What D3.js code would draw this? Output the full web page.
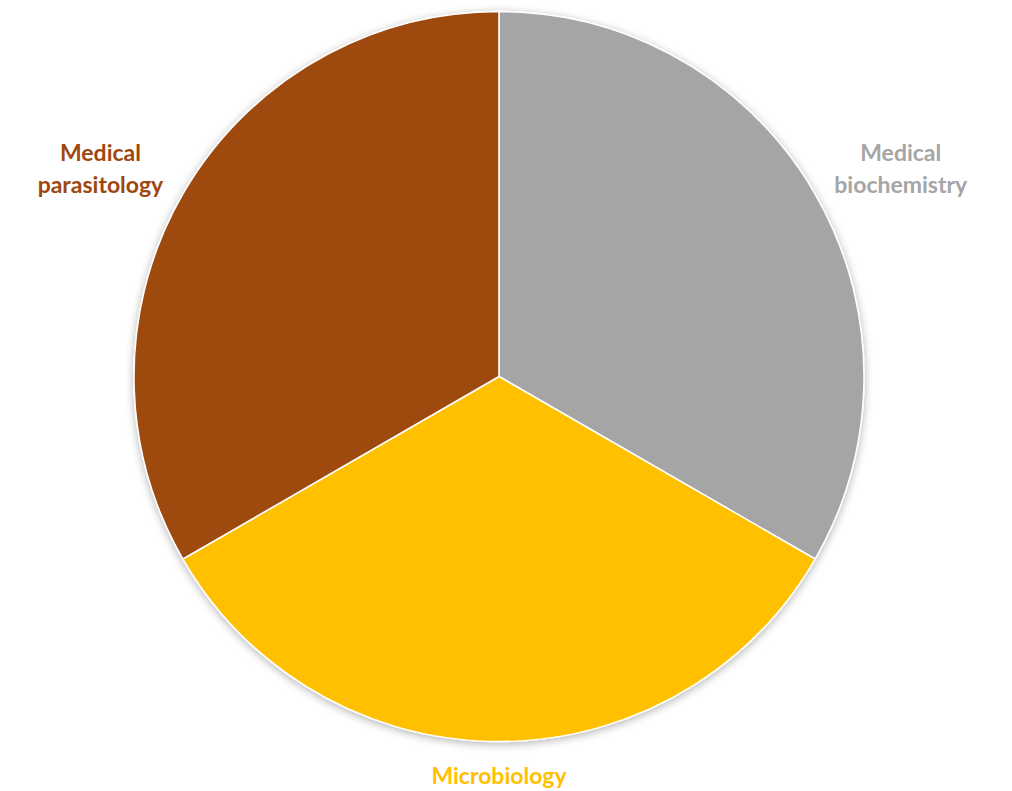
<!DOCTYPE html>
<html>
<head>
<meta charset="utf-8">
<script src="https://cdn.jsdelivr.net/npm/d3@7"></script>
<style>
  html, body { margin: 0; padding: 0; background: #ffffff; }
  text { font-family: Lato, "Open Sans", sans-serif; font-weight: bold; }
</style>
</head>
<body>
<div id="chart"></div>
<script>
"use strict";

const categories = ["Medical biochemistry", "Microbiology", "Medical parasitology"];
const values = [1, 1, 1];
const colors = ["#a5a5a5", "#ffc000", "#9e480e"];
// label lines, one entry per category
const labelLines = [["Medical", "biochemistry"], ["Microbiology"], ["Medical", "parasitology"]];

const width = 1012;
const height = 791;
const cx = 499;
const cy = 376.5;
const radius = 365;

const svg = d3.select("#chart").append("svg").attr("width", width).attr("height", height);

const defs = svg.append("defs");
const shadow = defs.append("filter").attr("id", "pieShadow")
  .attr("x", "-10%").attr("y", "-10%").attr("width", "120%").attr("height", "120%");
shadow.append("feDropShadow")
  .attr("dx", 0).attr("dy", 2).attr("stdDeviation", 4)
  .attr("flood-color", "#000").attr("flood-opacity", 0.3);

const color = d3.scaleOrdinal().domain(categories).range(colors);

const data = categories.map((c, i) => ({ name: c, value: values[i], lines: labelLines[i] }));

const pie = d3.pie().sort(null).value((d) => d.value);
const arc = d3.arc().innerRadius(0).outerRadius(radius);
const arcs = pie(data);

const g = svg.append("g").attr("transform", `translate(${cx},${cy})`);

g.append("g").attr("filter", "url(#pieShadow)")
  .selectAll("path")
  .data(arcs)
  .join("path")
  .attr("d", arc)
  .attr("fill", (d) => color(d.data.name))
  .attr("stroke", "#ffffff")
  .attr("stroke-width", 1.5)
  .attr("stroke-linejoin", "round");

// labels sit outside the pie: box pushed out along the slice's mid-angle
const gap = 20;
const gapX = 12;
const fontSize = 23;
const lineH = 32;

const labels = g.selectAll("text.lbl")
  .data(arcs)
  .join("text")
  .attr("class", "lbl")
  .attr("text-anchor", "middle")
  .attr("font-size", fontSize)
  .attr("fill", (d) => color(d.data.name));

labels.selectAll("tspan")
  .data((d) => d.data.lines.map((t, i, arr) => ({ t, i, n: arr.length })))
  .join("tspan")
  .attr("x", 0)
  .attr("y", (d) => (d.i - (d.n - 1) / 2) * lineH)
  .attr("dy", "0.35em")
  .text((d) => d.t);

labels.attr("transform", function (d) {
  const bb = this.getBBox();
  const a = (d.startAngle + d.endAngle) / 2;
  const sx = Math.sin(a);
  const sy = -Math.cos(a);
  const x = sx * (radius + gap + gapX) + sx * bb.width / 2;
  const y = sy * (radius + gap) + sy * bb.height / 2;
  return `translate(${x},${y})`;
});
</script>
</body>
</html>
